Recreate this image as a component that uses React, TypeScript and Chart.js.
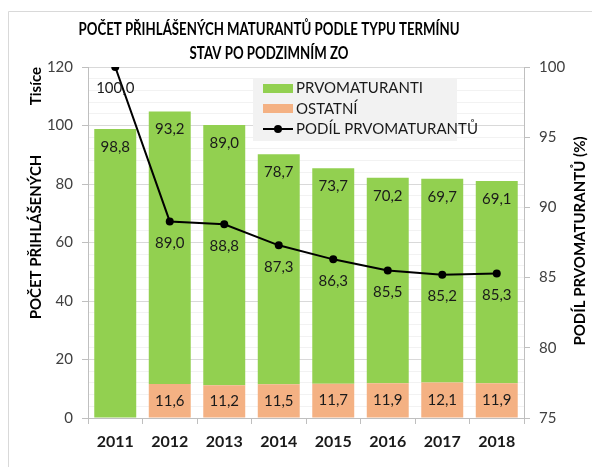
import React, { useEffect, useRef } from "react";
import { Chart, registerables } from "chart.js";

Chart.register(...registerables);

const years = ["2011", "2012", "2013", "2014", "2015", "2016", "2017", "2018"];
const prvomaturanti = [98.8, 93.2, 89.0, 78.7, 73.7, 70.2, 69.7, 69.1];
const ostatni: (number | null)[] = [null, 11.6, 11.2, 11.5, 11.7, 11.9, 12.1, 11.9];
const podil = [100.0, 89.0, 88.8, 87.3, 86.3, 85.5, 85.2, 85.3];

const titleLines = ["POČET PŘIHLÁŠENÝCH MATURANTŮ PODLE TYPU TERMÍNU", "STAV PO PODZIMNÍM ZO"];
const leftTitle = "POČET PŘIHLÁŠENÝCH";
const unitsLabel = "Tisíce";
const rightTitle = "PODÍL PRVOMATURANTŮ (%)";
const legendLabels = ["PRVOMATURANTI", "OSTATNÍ", "PODÍL PRVOMATURANTŮ"];

const GREEN = "#92d050";
const ORANGE = "#f4b183";
const FONT = "Lato, 'Open Sans', sans-serif";
const fmt = (v: number) => v.toFixed(1).replace(".", ",");

const decorPlugin = {
  id: "decor",
  beforeDraw(chart: any) {
    const ctx = chart.ctx;
    ctx.save();
    ctx.fillStyle = "#ffffff";
    ctx.fillRect(0, 0, chart.width, chart.height);
    ctx.strokeStyle = "#d9d9d9";
    ctx.lineWidth = 1;
    ctx.beginPath();
    ctx.moveTo(8.5, chart.height);
    ctx.lineTo(8.5, 11.5);
    ctx.lineTo(chart.width, 11.5);
    ctx.stroke();
    ctx.restore();
  },
  afterDatasetsDraw(chart: any) {
    const ctx = chart.ctx;
    ctx.save();
    ctx.font = `15px ${FONT}`;
    ctx.fillStyle = "#1a1a1a";
    ctx.textAlign = "center";
    ctx.textBaseline = "middle";
    const mO = chart.getDatasetMeta(0);
    const mP = chart.getDatasetMeta(1);
    const mL = chart.getDatasetMeta(2);
    mO.data.forEach((el: any, i: number) => {
      const v = ostatni[i];
      if (v == null) return;
      ctx.fillText(fmt(v), el.x, (el.y + el.base) / 2);
    });
    mP.data.forEach((el: any, i: number) => {
      ctx.fillText(fmt(prvomaturanti[i]), el.x, el.y + 18);
    });
    mL.data.forEach((el: any, i: number) => {
      ctx.fillText(fmt(podil[i]), el.x, el.y + 21.5);
    });
    ctx.restore();
  },
  afterDraw(chart: any) {
    const ctx = chart.ctx;
    ctx.save();
    // title (horizontally condensed to match a narrow face)
    ctx.fillStyle = "#000";
    ctx.textAlign = "center";
    ctx.textBaseline = "middle";
    ctx.font = `bold 16.5px ${FONT}`;
    const w = ctx.measureText(titleLines[0]).width;
    const sx = 381 / w;
    ctx.save();
    ctx.translate(269, 0);
    ctx.scale(sx, 1);
    ctx.fillText(titleLines[0], 0, 30);
    ctx.fillText(titleLines[1], 0, 54);
    ctx.restore();
    // axis titles
    ctx.font = `bold 15px ${FONT}`;
    ctx.save();
    ctx.translate(36, 237);
    ctx.rotate(-Math.PI / 2);
    ctx.fillText(leftTitle, 0, 0);
    ctx.restore();
    ctx.save();
    ctx.translate(36, 86);
    ctx.rotate(-Math.PI / 2);
    ctx.fillText(unitsLabel, 0, 0);
    ctx.restore();
    ctx.save();
    ctx.translate(580, 241);
    ctx.rotate(-Math.PI / 2);
    ctx.fillText(rightTitle, 0, 0);
    ctx.restore();
    // legend
    ctx.fillStyle = "#f2f2f2";
    ctx.fillRect(253, 78, 204, 63);
    ctx.fillStyle = GREEN;
    ctx.fillRect(263, 84, 30, 9);
    ctx.fillStyle = ORANGE;
    ctx.fillRect(263, 104, 30, 9);
    ctx.strokeStyle = "#000";
    ctx.lineWidth = 2;
    ctx.beginPath();
    ctx.moveTo(263, 129);
    ctx.lineTo(293, 129);
    ctx.stroke();
    ctx.fillStyle = "#000";
    ctx.beginPath();
    ctx.arc(278, 129, 4, 0, Math.PI * 2);
    ctx.fill();
    ctx.font = `15px ${FONT}`;
    ctx.textAlign = "left";
    ctx.fillStyle = "#1a1a1a";
    ctx.fillText(legendLabels[0], 296, 88.5);
    ctx.fillText(legendLabels[1], 296, 109);
    ctx.fillText(legendLabels[2], 296, 129.5);
    ctx.restore();
  },
};

export default function App() {
  const ref = useRef<HTMLCanvasElement | null>(null);
  useEffect(() => {
    if (!ref.current) return;
    const chart = new Chart(ref.current, {
      type: "bar",
      data: {
        labels: years,
        datasets: [
          {
            type: "bar",
            label: legendLabels[1],
            data: ostatni,
            backgroundColor: ORANGE,
            yAxisID: "y",
            order: 1,
            barPercentage: 0.77,
            categoryPercentage: 1,
          },
          {
            type: "bar",
            label: legendLabels[0],
            data: prvomaturanti,
            backgroundColor: GREEN,
            yAxisID: "y",
            order: 1,
            barPercentage: 0.77,
            categoryPercentage: 1,
          },
          {
            type: "line",
            label: legendLabels[2],
            data: podil,
            borderColor: "#000",
            backgroundColor: "#000",
            borderWidth: 2,
            pointRadius: 4,
            pointBackgroundColor: "#000",
            pointBorderWidth: 0,
            yAxisID: "y2",
            order: 0,
            tension: 0,
          } as any,
        ],
      },
      options: {
        responsive: false,
        animation: false,
        devicePixelRatio: 1,
        layout: { padding: { top: 67, left: 0, right: 0, bottom: 0 } },
        plugins: { legend: { display: false }, title: { display: false }, tooltip: { enabled: false } },
        scales: {
          x: {
            stacked: true,
            offset: true,
            grid: {
              display: true,
              drawOnChartArea: false,
              offset: true,
              tickLength: 6,
              tickColor: "#bfbfbf",
            },
            border: { display: true, color: "#bfbfbf" },
            ticks: {
              color: "#1a1a1a",
              font: { family: FONT, size: 16, weight: "bold" },
              padding: 8,
            },
            afterFit: (s: any) => {
              s.height = 49;
            },
          },
          y: {
            stacked: true,
            position: "left",
            min: 0,
            max: 120,
            ticks: {
              stepSize: 4,
              maxTicksLimit: 100,
              autoSkip: false,
              color: "#404040",
              font: { family: FONT, size: 15 },
              padding: 9,
              callback: (v: any) => (Number(v) % 20 === 0 ? String(v) : ""),
            },
            grid: {
              color: (c: any) => (c.tick && c.tick.value % 20 === 0 ? "#d9d9d9" : "#f2f2f2"),
              tickColor: (c: any) => (c.tick && c.tick.value % 20 === 0 ? "#bfbfbf" : "rgba(0,0,0,0)"),
              tickLength: 6,
            },
            border: { display: true, color: "#bfbfbf" },
            afterFit: (s: any) => {
              s.width = 88;
            },
          },
          y2: {
            position: "right",
            stacked: false,
            min: 75,
            max: 100,
            ticks: {
              stepSize: 5,
              color: "#404040",
              font: { family: FONT, size: 15 },
              padding: 9,
            },
            grid: {
              drawOnChartArea: false,
              tickLength: 6,
              tickColor: "#bfbfbf",
            },
            border: { display: true, color: "#bfbfbf" },
            afterFit: (s: any) => {
              s.width = 68;
            },
          },
        },
      } as any,
      plugins: [decorPlugin],
    });
    return () => chart.destroy();
  }, []);
  return (
    <canvas
      ref={ref}
      width={592}
      height={467}
      style={{ position: "fixed", left: 0, top: 0, width: 592, height: 467 }}
    />
  );
}
